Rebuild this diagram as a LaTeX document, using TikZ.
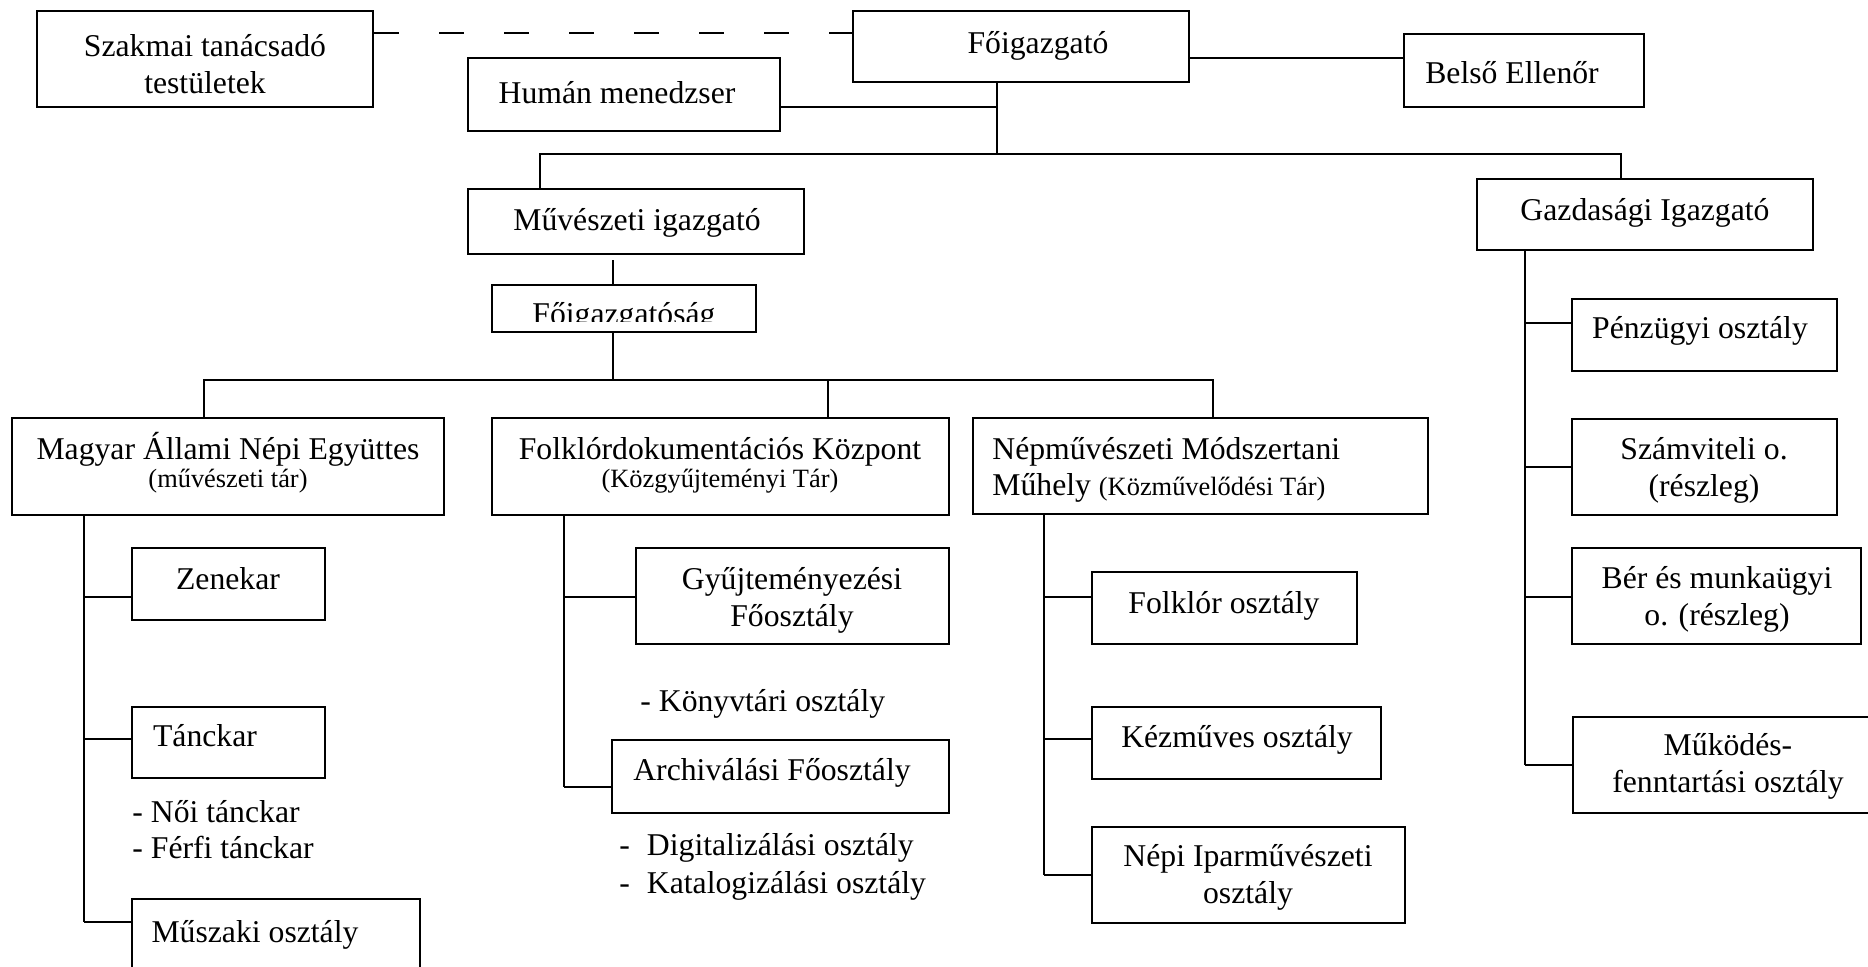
\documentclass[tikz,border=0pt]{standalone}
\usepackage{fontspec}
\setmainfont{Liberation Serif}
\usetikzlibrary{fit}
\newcommand\mainsz{\fontsize{15.85pt}{18.5pt}\selectfont\lineskiplimit=-50pt\relax}
\newcommand\smsz{\fontsize{13.2pt}{14.5pt}\selectfont}
\tikzset{
  bx/.style={draw, line width=1pt, inner sep=0pt, rectangle},
  txt/.style={inner sep=0pt, font=\mainsz, anchor=base, align=center},
  stxt/.style={inner sep=0pt, font=\smsz, anchor=base, align=center},
  ltxt/.style={inner sep=0pt, font=\mainsz, anchor=base west, align=left},
  conn/.style={line width=0.85pt},
  dashconn/.style={line width=0.85pt, dash pattern=on 12.5pt off 20pt},
}
\begin{document}
\begin{tikzpicture}[x=0.5pt,y=-0.5pt]
\useasboundingbox (0,0) rectangle (1868,966);
% boxes
\node[bx, fit={(37,11) (373,107)}] (szak) {};
\node[bx, fit={(853,11) (1189,82)}] (fo) {};
\node[bx, fit={(1404,34) (1644,107)}] (bel) {};
\node[bx, fit={(468,58) (780,131)}] (hum) {};
\node[bx, fit={(468,189) (804,254)}] (mu) {};
\node[bx, fit={(1477,179) (1813,250)}] (gz) {};
\node[bx, fit={(492,285) (756,332)}] (fg) {};
\node[bx, fit={(12,418) (444,515)}] (mag) {};
\node[bx, fit={(492,418) (949,515)}] (fk) {};
\node[bx, fit={(973,418) (1428,514)}] (nm) {};
\node[bx, fit={(1572,299) (1837,371)}] (pe) {};
\node[bx, fit={(1572,419) (1837,515)}] (sz) {};
\node[bx, fit={(1572,548) (1861,644)}] (ber) {};
\node[bx, fit={(1573,717) (1885,813)}] (mk) {};
\node[bx, fit={(132,548) (325,620)}] (zen) {};
\node[bx, fit={(132,707) (325,778)}] (tan) {};
\node[bx, fit={(132,899) (420,990)}] (msz) {};
\node[bx, fit={(636,548) (949,644)}] (gy) {};
\node[bx, fit={(612,740) (949,813)}] (arc) {};
\node[bx, fit={(1092,572) (1357,644)}] (fol) {};
\node[bx, fit={(1092,707) (1381,779)}] (kez) {};
\node[bx, fit={(1092,827) (1405,923)}] (nip) {};
% texts (multi-line nodes are placed by the baseline of their last line)
\node[txt] (szakT) at (205,93) {Szakmai tanácsadó\\testületek};
\node[txt] (foT) at (1038,53) {Főigazgató};
\node[txt] (belT) at (1512,83) {Belső Ellenőr};
\node[txt] (humT) at (617,103) {Humán menedzser};
\node[txt] (muT) at (637,230) {Művészeti igazgató};
\node[txt] (gzT) at (1645,220) {Gazdasági Igazgató};
\begin{scope}
  \clip (492,285) rectangle (756,321);
  \node[txt] (fgT) at (624,324) {Főigazgatóság};
\end{scope}
\node[txt] (magT) at (228,459) {Magyar Állami Népi Együttes};
\node[stxt] (magS) at (228,487) {(művészeti tár)};
\node[txt] (fkT) at (720,459) {Folklórdokumentációs Központ};
\node[stxt] (fkS) at (720,487) {(Közgyűjteményi Tár)};
\node[ltxt] (nmT) at (992,459) {Népművészeti Módszertani};
\node[ltxt] (nmS) at (992,495) {Műhely {\smsz(Közművelődési Tár)}};
\node[txt] (peT) at (1700,338) {Pénzügyi osztály};
\node[txt] (szT) at (1704,496) {Számviteli o.\\(részleg)};
\node[txt] (berT) at (1717,625) {Bér és munkaügyi\\o. (részleg)};
\node[txt] (mkT) at (1728,792) {Működés-\\fenntartási osztály};
\node[txt] (zenT) at (228,589) {Zenekar};
\node[txt] (tanT) at (205,746) {Tánckar};
\node[ltxt] (noi) at (132,822) {- Női tánckar};
\node[ltxt] (ferfi) at (132,858) {- Férfi tánckar};
\node[txt] (mszT) at (255,942) {Műszaki osztály};
\node[txt] (gyT) at (792,626) {Gyűjteményezési\\Főosztály};
\node[ltxt] (konyv) at (640,711) {- Könyvtári osztály};
\node[txt] (arcT) at (772,780) {Archiválási Főosztály};
\node[ltxt] (dig) at (619,855) {-\hspace{8.5pt}Digitalizálási osztály};
\node[ltxt] (kat) at (619,893) {-\hspace{8.5pt}Katalogizálási osztály};
\node[txt] (folT) at (1224,613) {Folklór osztály};
\node[txt] (kezT) at (1237,747) {Kézműves osztály};
\node[txt] (nipT) at (1248,903) {Népi Iparművészeti\\osztály};
% connectors top
\coordinate (dl) at (0,33);
\draw[dashconn] (szak.east |- dl) -- (fo.west |- dl);
\coordinate (bl) at (0,58);
\draw[conn] (fo.east |- bl) -- (bel.west |- bl);
\coordinate (j0) at (997,154);
\coordinate (jh) at (997,107);
\draw[conn] (fo.south -| j0) -- (j0);
\draw[conn] (hum.east |- jh) -- (jh);
\coordinate (barL) at (540,154);
\coordinate (barR) at (1621,154);
\draw[conn] (mu.north -| barL) -- (barL) -- (barR) -- (gz.north -| barR);
\coordinate (c2) at (613,380);
\draw[conn, shorten <=2.5pt] (mu.south -| c2) -- (fg.north -| c2);
\draw[conn] (fg.south -| c2) -- (c2);
\coordinate (b2L) at (204,380);
\coordinate (b2M) at (828,380);
\coordinate (b2R) at (1213,380);
\draw[conn] (mag.north -| b2L) -- (b2L) -- (b2R) -- (nm.north -| b2R);
\draw[conn] (b2M) -- (fk.north -| b2M);
% economic branch
\coordinate (g1) at (1525,323);
\coordinate (g2) at (1525,467);
\coordinate (g3) at (1525,597);
\coordinate (g4) at (1525,765);
\draw[conn] (gz.south -| g1) -- (g4);
\draw[conn] (g1) -- (pe.west |- g1);
\draw[conn] (g2) -- (sz.west |- g2);
\draw[conn] (g3) -- (ber.west |- g3);
\draw[conn] (g4) -- (mk.west |- g4);
% Magyar branch
\coordinate (m1) at (84,597);
\coordinate (m2) at (84,739);
\coordinate (m3) at (84,922);
\draw[conn] (mag.south -| m1) -- (m3);
\draw[conn] (m1) -- (zen.west |- m1);
\draw[conn] (m2) -- (tan.west |- m2);
\draw[conn] (m3) -- (msz.west |- m3);
% Folklor branch
\coordinate (f1) at (564,597);
\coordinate (f2) at (564,787);
\draw[conn] (fk.south -| f1) -- (f2);
\draw[conn] (f1) -- (gy.west |- f1);
\draw[conn] (f2) -- (arc.west |- f2);
% Nepmuveszeti branch
\coordinate (n1) at (1044,597);
\coordinate (n2) at (1044,739);
\coordinate (n3) at (1044,875);
\draw[conn] (nm.south -| n1) -- (n3);
\draw[conn] (n1) -- (fol.west |- n1);
\draw[conn] (n2) -- (kez.west |- n2);
\draw[conn] (n3) -- (nip.west |- n3);
\end{tikzpicture}
\end{document}
